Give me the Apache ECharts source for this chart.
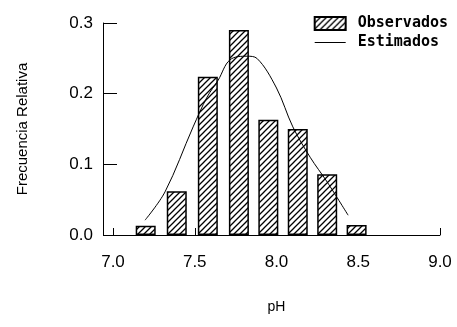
<!DOCTYPE html>
<html>
<head>
<meta charset="utf-8">
<script src="https://cdn.jsdelivr.net/npm/echarts@6/dist/echarts.min.js"></script>
<style>html,body{margin:0;padding:0;background:#fff}#c{width:457px;height:327px}</style>
</head>
<body>
<div id="c"></div>
<script>
// Observed relative frequencies (bar centres in pH)
var barPH = [7.20, 7.39, 7.58, 7.77, 7.95, 8.13, 8.31, 8.49];
var observed = [0.013, 0.062, 0.224, 0.290, 0.163, 0.150, 0.086, 0.014];
// Estimated (fitted) curve
var curvePH = [7.196, 7.318, 7.49, 7.575, 7.643, 7.716, 7.82, 7.88, 8.0, 8.10, 8.206, 8.31, 8.438];
var estimated = [0.021, 0.061, 0.153, 0.195, 0.219, 0.248, 0.253, 0.250, 0.208, 0.153, 0.110, 0.075, 0.028];
var xTicks = [7.0, 7.5, 8.0, 8.5, 9.0];
var yTicks = [0.0, 0.1, 0.2, 0.3];

function hatch() {
  var c = document.createElement('canvas');
  c.width = 6; c.height = 6;
  var g = c.getContext('2d');
  g.fillStyle = '#fff'; g.fillRect(0, 0, 6, 6);
  g.strokeStyle = '#000'; g.lineWidth = 1.3;
  g.beginPath();
  g.moveTo(-1, 7); g.lineTo(7, -1);
  g.moveTo(-1, 1); g.lineTo(1, -1);
  g.moveTo(5, 7); g.lineTo(7, 5);
  g.stroke();
  return c;
}
var pattern = { image: hatch(), repeat: 'repeat' };

var chart = echarts.init(document.getElementById('c'));
chart.setOption({
  animation: false,
  backgroundColor: '#fff',
  grid: { left: 113, right: 17, top: 23, bottom: 92 },
  legend: {
    orient: 'vertical', right: 4, top: 11, itemWidth: 31, itemHeight: 13, itemGap: 4,
    textStyle: { fontFamily: 'DejaVu Sans Mono', fontWeight: 'bold', fontSize: 15, color: '#000', padding: [0, 0, 0, 7] },
    data: [
      { name: 'Observados', icon: 'rect' },
      { name: 'Estimados', icon: 'path://M0,0H31V1H0Z' }
    ]
  },
  xAxis: {
    type: 'value', min: 7, max: 9, interval: 0.5, offset: 7,
    name: 'pH', nameLocation: 'middle', nameGap: 58,
    nameTextStyle: { fontFamily: 'Liberation Sans', fontSize: 14, color: '#000' },
    axisLine: { lineStyle: { color: '#000', width: 1 } },
    axisTick: { inside: true, length: 7, lineStyle: { color: '#000' } },
    axisLabel: {
      margin: 12, fontFamily: 'Liberation Sans', fontSize: 17, color: '#000',
      formatter: function (v) { return xTicks.indexOf(v) >= 0 ? v.toFixed(1) : ''; }
    },
    splitLine: { show: false }
  },
  yAxis: {
    type: 'value', min: 0, max: 0.3, interval: 0.1, offset: 10,
    name: 'Frecuencia Relativa', nameLocation: 'middle', nameGap: 73,
    nameTextStyle: { fontFamily: 'Liberation Sans', fontSize: 15, color: '#000' },
    axisLine: { show: true, lineStyle: { color: '#000', width: 1 } },
    axisTick: { show: true, inside: true, length: 14, lineStyle: { color: '#000' } },
    axisLabel: {
      margin: 10, fontFamily: 'Liberation Sans', fontSize: 17, color: '#000',
      formatter: function (v) { return v.toFixed(1); }
    },
    splitLine: { show: false }
  },
  series: [
    {
      name: 'Observados', type: 'bar', barWidth: 20,
      itemStyle: { color: pattern, borderColor: '#000', borderWidth: 1.5 },
      data: barPH.map(function (x, i) { return [x, observed[i]]; })
    },
    {
      name: 'Estimados', type: 'line', smooth: 0.35, symbol: 'none',
      lineStyle: { color: '#000', width: 1 },
      itemStyle: { color: '#000' },
      data: curvePH.map(function (x, i) { return [x, estimated[i]]; })
    }
  ]
});
</script>
</body>
</html>
